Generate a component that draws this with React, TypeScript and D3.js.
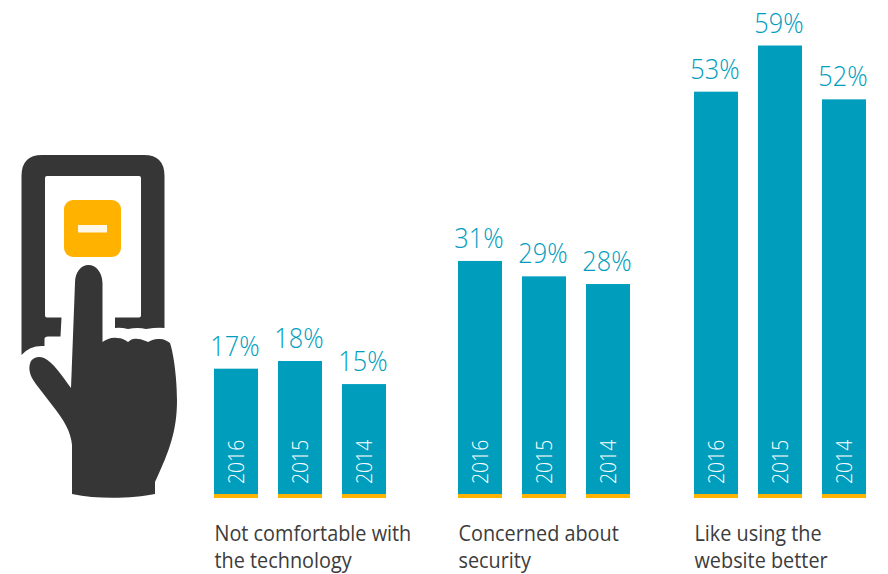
import React from "react";
import * as d3 from "d3";

const years = ["2016", "2015", "2014"];
const groupNames = ["comfort", "security", "website"];
const comfortValues = [17, 18, 15];
const securityValues = [31, 29, 28];
const websiteValues = [53, 59, 52];
const comfortCaption = ["Not comfortable with", "the technology"];
const securityCaption = ["Concerned about", "security"];
const websiteCaption = ["Like using the", "website better"];

const groups = [
  { name: groupNames[0], values: comfortValues, caption: comfortCaption },
  { name: groupNames[1], values: securityValues, caption: securityCaption },
  { name: groupNames[2], values: websiteValues, caption: websiteCaption },
];

const BLUE = "#009dbd";
const AMBER = "#ffb300";
const DARK = "#363636";
const FONT = "'Open Sans', sans-serif";

const groupX = d3.scaleOrdinal<string, number>().domain(groupNames).range([214, 458, 694]);
const barX = d3.scaleBand<string>().domain(years).range([0, 172]).paddingInner(0.3125).paddingOuter(0);
const y = d3.scaleLinear().domain([0, 59]).range([499.5, 45.5]);

const BAR_FOOT = 494;
const STRIP = 4;

const deviceFrame =
  "M42 155 H144 Q164.5 155 164.5 176 V328 Q158 327 146 329 Q138 327 128 329 Q120 327 115 328 V317.5 H139 Q141 317.5 141 315.5 V178 Q141 176 139 176 H47 Q45 176 45 178 V315.5 Q45 317.5 47 317.5 H61.5 L60.5 336.5 H48 Q44.5 336.5 44.5 339 V346 Q30 345 21.5 355 V176 Q21.5 155 42 155 Z";

const handShape =
  "M75 283 C75 272 81 265 88.5 265 C96 265 102 272 102.5 283 L102.5 342 C107 339 112 337 117 338 C122 338 125 340 128 342 C131 339 134 338 138 339 C142 339 145 341 148 342 C151 340 155 338.500 160 339 C164 339 167 341 170 343 C174 355 177 380 177 400 C177 430 170 450 155 482 L155 494 C135 498 100 500 72 494 L72 445 C71 432 64 420 52 405 C44 394 36 385 32 378 C29 372 28.500 366 31 361 C34 357 39 356 44 358 C53 362 62 376 71 388 Z";

export default function App() {
  return (
    <svg
      width={888}
      height={574}
      style={{ position: "absolute", left: 0, top: 0, background: "#fff", fontFamily: FONT }}
    >
      <path d={deviceFrame} fill={DARK} />
      <rect x={64} y={200} width={57} height={57} rx={9} fill={AMBER} />
      <rect x={78} y={225} width={29} height={7.500} fill="#fff8e8" />
      <path d={handShape} fill={DARK} />

      {groups.map((g) => {
        const x0 = groupX(g.name);
        return (
          <g key={g.name} transform={`translate(${x0},0)`}>
            {g.values.map((v, i) => {
              const yr = years[i];
              const x = barX(yr) as number;
              const w = barX.bandwidth();
              const top = y(v);
              const cx = x + w / 2;
              return (
                <g key={yr}>
                  <rect x={x} y={top} width={w} height={BAR_FOOT - top} fill={BLUE} />
                  <rect x={x} y={BAR_FOOT} width={w} height={STRIP} fill={AMBER} />
                  {/* Narrowed glyphs: tall figures at the width of the bar label column */}
                  <text
                    transform={`translate(${cx - 1},${top - 13}) scale(0.92,1)`}
                    textAnchor="middle"
                    fontSize={27.500}
                    fontWeight={350}
                    fill={BLUE}
                  >
                    {v}%
                  </text>
                  <text
                    transform={`translate(${cx + 8},484) rotate(-90) scale(0.88,1)`}
                    fontSize={22}
                    fontWeight={350}
                    fill="#ffffff"
                  >
                    {yr}
                  </text>
                </g>
              );
            })}
            {g.caption.map((line, i) => (
              <text
                key={line}
                transform={`translate(0.5,${540.5 + i * 27}) scale(0.945,1)`}
                fontSize={21}
                fill="#3c3c3c"
              >
                {line}
              </text>
            ))}
          </g>
        );
      })}
    </svg>
  );
}
